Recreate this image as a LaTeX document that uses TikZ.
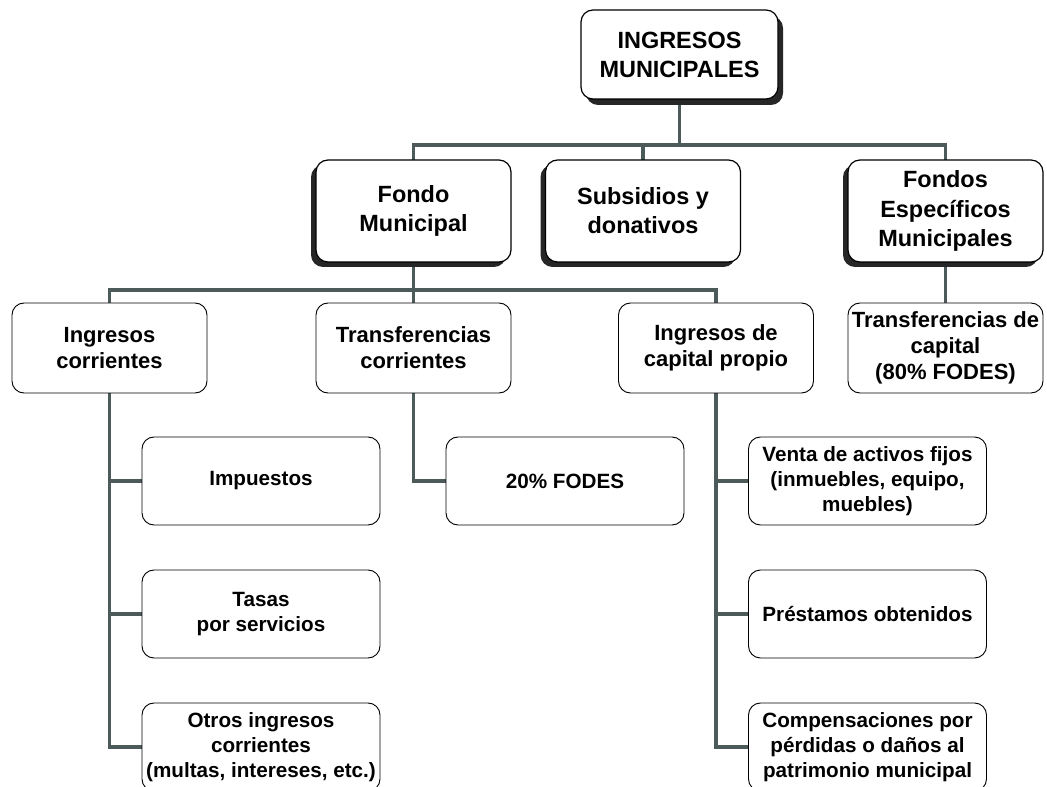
\documentclass[tikz,border=0pt]{standalone}
\usepackage{fontspec}
\setmainfont{Liberation Sans}
\usetikzlibrary{shadows,backgrounds}
\definecolor{linkgray}{RGB}{77,90,90}

\begin{document}
\begin{tikzpicture}[x=0.75pt,y=-0.75pt]
      \tikzset{
        node distance=99.75pt,
        every node/.style={draw,fill=white,rounded corners=9pt,align=center,inner sep=0pt},
        root/.style={minimum width=147.75pt,minimum height=66.75pt,line width=0.9pt,
          font=\bfseries\fontsize{17.6}{21.8}\selectfont,
          general shadow={fill=black!85,shadow xshift=3.75pt,shadow yshift=-4.5pt}},
        fund/.style={minimum width=146.25pt,minimum height=76.5pt,line width=0.9pt,
          font=\bfseries\fontsize{17.6}{21.8}\selectfont,
          general shadow={fill=black!85,shadow xshift=-3.75pt,shadow yshift=-3.75pt}},
        group/.style={minimum width=146.25pt,minimum height=67.5pt,line width=0.7pt,
          font=\bfseries\fontsize{16.5}{19.5}\selectfont},
        leaf/.style={minimum width=178.5pt,minimum height=66pt,line width=0.7pt,
          font=\bfseries\fontsize{15.5}{19}\selectfont},
        link/.style={draw=linkgray,line width=2.7pt,line cap=rect}
      }
      \useasboundingbox (0,0) rectangle (1047,787);

      \node[root] (ingmun) at (679.5,54.5) {INGRESOS\\MUNICIPALES};

      \node[fund] (fondomun) at (413.5,211) {Fondo\\Municipal};
      \node[fund] (subsid) at (643,211) {Subsidios y\\donativos};
      \node[fund] (fondesp) at (945.5,211) {Fondos\\Específicos\\Municipales};

      \node[group] (ingcor) at (109.5,348) {Ingresos\\corrientes};
      \node[group] (trcor) at (413.5,348) {Transferencias\\corrientes};
      \node[group] (ingcap) at (716,348) {Ingresos de\\capital propio};
      \node[group] (trcap) at (945.5,348) {Transferencias de\\capital\\(80\% FODES)};

      \node[leaf] (impuestos) at (261,481) {Impuestos};
      \node[leaf,below of=impuestos] (tasas) {Tasas\\por servicios};
      \node[leaf,below of=tasas] (otros) {Otros ingresos\\corrientes\\(multas, intereses, etc.)};
      \node[leaf] (fodes) at (565,481) {20\% FODES};
      \node[leaf] (venta) at (867.5,481) {Venta de activos fijos\\(inmuebles, equipo,\\muebles)};
      \node[leaf,below of=venta] (prestamos) {Préstamos obtenidos};
      \node[leaf,below of=prestamos] (compens) {Compensaciones por\\pérdidas o daños al\\patrimonio municipal};

      \begin{scope}[on background layer]
        \coordinate (bus1) at (679.5,145);
        \coordinate (bus2) at (413.5,290);
        \draw[link] (ingmun.south) -- (bus1);
        \draw[link] (fondomun.north) |- (bus1)
                    (subsid.north) |- (bus1)
                    (fondesp.north) |- (bus1);
        \draw[link] (fondomun.south) -- (bus2);
        \draw[link] (ingcor.north) |- (bus2)
                    (trcor.north) -- (bus2)
                    (ingcap.north) |- (bus2);
        \draw[link] (fondesp.south) -- (trcap.north);
        \draw[link] (ingcor.south) |- (impuestos.west)
                    (ingcor.south) |- (tasas.west)
                    (ingcor.south) |- (otros.west);
        \draw[link] (trcor.south) |- (fodes.west);
        \draw[link] (ingcap.south) |- (venta.west)
                    (ingcap.south) |- (prestamos.west)
                    (ingcap.south) |- (compens.west);
      \end{scope}
\end{tikzpicture}
\end{document}
